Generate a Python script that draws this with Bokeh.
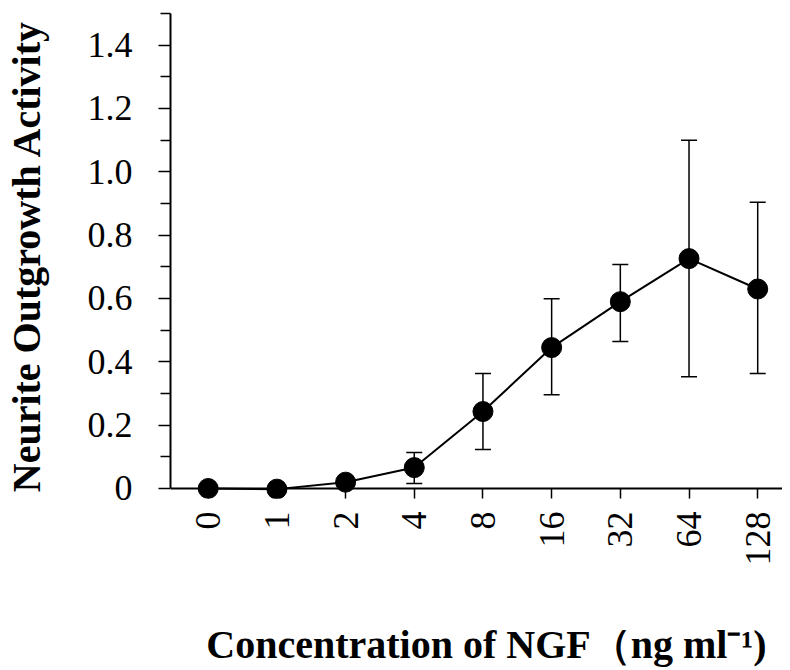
from bokeh.plotting import figure
from bokeh.models import (Range1d, FixedTicker, CustomJSTickFormatter, ColumnDataSource,
                          Whisker, TeeHead, Span)
from bokeh.embed import file_html
from bokeh.resources import INLINE
from math import pi

# ---- data ----
conc_labels = ["0", "1", "2", "4", "8", "16", "32", "64", "128"]
activity = [0.0, -0.002, 0.02, 0.066, 0.243, 0.445, 0.590, 0.726, 0.630]
err_upper = [0.0, -0.002, 0.02, 0.114, 0.363, 0.599, 0.707, 1.100, 0.904]
err_lower = [0.0, -0.002, 0.02, 0.016, 0.123, 0.296, 0.464, 0.353, 0.363]
y_major = [0, 0.2, 0.4, 0.6, 0.8, 1.0, 1.2, 1.4]
y_minor = [0.1, 0.3, 0.5, 0.7, 0.9, 1.1, 1.3, 1.5]
x_title = "Concentration of NGF（ng ml⁻¹)"
y_title = "Neurite Outgrowth Activity"

xs = list(range(len(conc_labels)))
FONT = "Liberation Serif"

p = figure(width=782, height=670, output_backend="svg", toolbar_location=None,
           x_range=Range1d(-0.549, 8.361), y_range=Range1d(-0.0316, 1.5),
           min_border_left=165, min_border_right=0, min_border_top=13,
           min_border_bottom=172)
p.outline_line_color = None
p.xgrid.visible = False
p.ygrid.visible = False
p.background_fill_color = "white"
p.border_fill_color = "white"

# y axis
ya = p.yaxis[0]
ya.ticker = FixedTicker(ticks=y_major, minor_ticks=y_minor)
ya.formatter = CustomJSTickFormatter(code="return tick == 0 ? '0' : tick.toFixed(1);")
ya.bounds = (0, 1.5)
ya.axis_line_width = 2
ya.major_tick_line_width = 1.5
ya.minor_tick_line_width = 1.5
ya.major_tick_in = 0
ya.major_tick_out = 12
ya.minor_tick_in = 0
ya.minor_tick_out = 10
ya.major_label_text_font = FONT
ya.major_label_text_font_size = "36px"
ya.major_label_text_color = "black"
ya.major_label_standoff = 26
ya.axis_label = y_title
ya.axis_label_text_font = FONT
ya.axis_label_text_font_style = "bold"
ya.axis_label_text_font_size = "40px"
ya.axis_label_text_color = "black"
ya.axis_label_standoff = 36

# x axis (at frame bottom, 10px below y=0; ticks reach up to the zero line)
xa = p.xaxis[0]
xa.ticker = FixedTicker(ticks=xs, minor_ticks=[])
xa.formatter = CustomJSTickFormatter(args=dict(labels=conc_labels),
                                     code="const i = Math.round(tick); return labels[i] ?? '';")
xa.axis_line_color = None
xa.major_tick_line_width = 1.5
xa.major_tick_in = 10
xa.major_tick_out = 0
xa.minor_tick_in = 0
xa.minor_tick_out = 0
xa.major_label_orientation = pi / 2
xa.major_label_text_font = FONT
xa.major_label_text_font_size = "36px"
xa.major_label_text_color = "black"
xa.major_label_standoff = 13
# leading en space nudges the centred title right, as in the reference
xa.axis_label = "\u2002" + x_title
xa.axis_label_text_font = FONT
xa.axis_label_text_font_style = "bold"
xa.axis_label_text_font_size = "40px"
xa.axis_label_text_color = "black"
xa.axis_label_standoff = 53

# zero line acting as the x axis line
p.add_layout(Span(location=0, dimension="width", line_color="black", line_width=2))

# error bars (only where visible)
idx = [i for i in xs if err_upper[i] > err_lower[i]]
esrc = ColumnDataSource(dict(x=[xs[i] for i in idx],
                             upper=[err_upper[i] for i in idx],
                             lower=[err_lower[i] for i in idx]))
wh = Whisker(source=esrc, base="x", upper="upper", lower="lower",
             line_color="black", line_width=1.5,
             upper_head=TeeHead(size=16, line_width=1.5, line_color="black"),
             lower_head=TeeHead(size=16, line_width=1.5, line_color="black"))
p.add_layout(wh)

src = ColumnDataSource(dict(x=xs, y=activity))
p.line("x", "y", source=src, line_color="black", line_width=2)
p.scatter("x", "y", source=src, size=20, fill_color="black", line_color="black")

open("out.html", "w").write(file_html(p, INLINE))
